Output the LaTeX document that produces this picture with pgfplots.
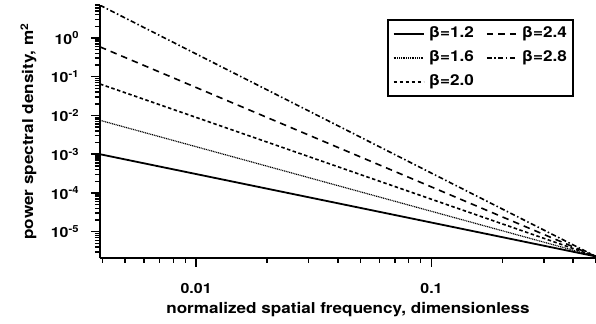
\documentclass[border=0pt]{standalone}
\usepackage{pgfplots}
\pgfplotsset{compat=1.18}
\usepackage{fontspec}
\setmainfont{TeX Gyre Heros}[FakeStretch=1.14]
\newcommand\lblfont{\fontsize{15bp}{18bp}\selectfont\bfseries}
\newcommand\tckfont{\fontsize{14bp}{17bp}\selectfont\bfseries}

% power-law spectra P(f) for several slopes beta
\pgfplotstableread{
f          b12     b16     b20     b24    b28
0.00390625 1.0e-3  7.5e-3  6.5e-2  0.59   7.0
0.5        2.3e-6  2.3e-6  2.3e-6  2.3e-6 2.3e-6
}\spectra

\begin{document}
\begin{tikzpicture}
\useasboundingbox (-100bp,-66bp) rectangle (496bp,258bp);
\begin{axis}[
  at={(0,0)}, anchor=south west,
  scale only axis, width=496bp, height=253bp,
  xmode=log, ymode=log,
  xmin=0.00390625, xmax=0.5,
  ymin=2.1e-6, ymax=7.1,
  axis x line*=bottom, axis y line*=left,
  axis line style={-, line width=1.8bp},
  tick align=outside,
  major tick length=9bp, minor tick length=5bp,
  every tick/.style={black, line width=1.5bp},
  xtick={0.01,0.1}, xticklabels={0.01,0.1},
  minor xtick={0.004,0.005,0.006,0.007,0.008,0.009,
               0.02,0.03,0.04,0.05,0.06,0.07,0.08,0.09,
               0.2,0.3,0.4,0.5},
  ytick={1e-5,1e-4,1e-3,1e-2,1e-1,1},
  yticklabels={10\textsuperscript{-5},10\textsuperscript{-4},10\textsuperscript{-3},
               10\textsuperscript{-2},10\textsuperscript{-1},10\textsuperscript{0}},
  minor ytick={3e-6,4e-6,5e-6,6e-6,7e-6,8e-6,9e-6,
               2e-5,3e-5,4e-5,5e-5,6e-5,7e-5,8e-5,9e-5,
               2e-4,3e-4,4e-4,5e-4,6e-4,7e-4,8e-4,9e-4,
               2e-3,3e-3,4e-3,5e-3,6e-3,7e-3,8e-3,9e-3,
               2e-2,3e-2,4e-2,5e-2,6e-2,7e-2,8e-2,9e-2,
               0.2,0.3,0.4,0.5,0.6,0.7,0.8,0.9,
               2,3,4,5,6,7},
  tick label style={font=\tckfont},
  xticklabel style={anchor=base, yshift=-27bp},
  yticklabel style={anchor=east, xshift=-8.5bp},
  label style={font=\lblfont},
  xlabel={normalized spatial frequency, dimensionless},
  xlabel style={at={(axis description cs:0.5,-0.2174)}, anchor=base},
  ylabel={power spectral density, m\textsuperscript{2}},
  ylabel style={at={(axis description cs:-0.1442,0.5)}, anchor=center},
  legend columns=2,
  legend cell align=left,
  legend image code/.code={\draw[#1] plot coordinates {(0bp,0bp) (30bp,0bp)};},
  legend style={at={(axis description cs:0.9556,0.9447)}, anchor=north east,
    draw=black, line width=2bp, font=\lblfont,
    inner xsep=5bp, inner ysep=6bp, row sep=8bp,
    nodes={inner sep=1bp, text height=11bp, text depth=3bp},
    /tikz/every odd column/.append style={column sep=3bp},
    /tikz/every even column/.append style={column sep=11bp}},
]
\addplot[black, line width=1.8bp] table[x=f, y=b12] {\spectra};
\addlegendentry{β=1.2}
\addplot[black, line width=1.6bp, dash pattern=on 6.5bp off 5bp] table[x=f, y=b24] {\spectra};
\addlegendentry{β=2.4}
\addplot[black, line width=1.2bp, dash pattern=on 1bp off 0.8bp] table[x=f, y=b16] {\spectra};
\addlegendentry{β=1.6}
\addplot[black, line width=1.6bp, dash pattern=on 5bp off 2.5bp on 1.5bp off 2.5bp] table[x=f, y=b28] {\spectra};
\addlegendentry{β=2.8}
\addplot[black, line width=1.6bp, dash pattern=on 3.5bp off 2.5bp] table[x=f, y=b20] {\spectra};
\addlegendentry{β=2.0}
\end{axis}
\end{tikzpicture}
\end{document}
